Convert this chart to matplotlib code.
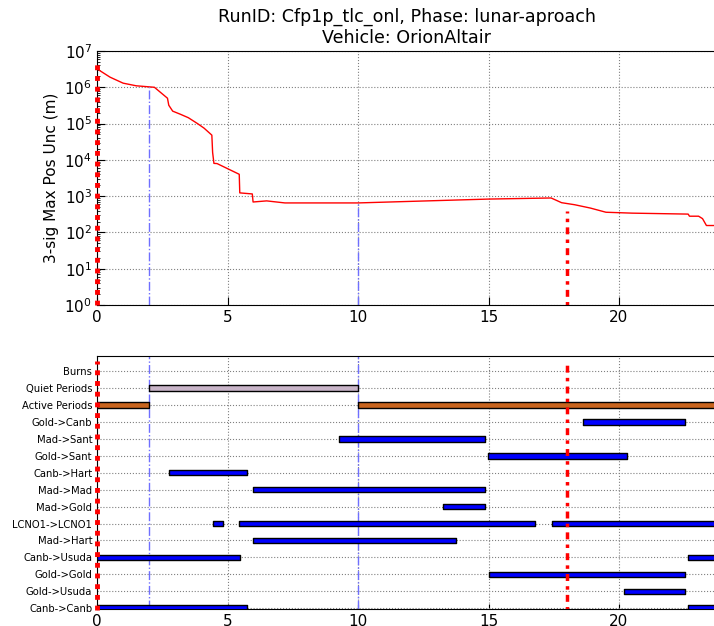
import numpy as np
import matplotlib
matplotlib.use("Agg")
import matplotlib.pyplot as plt

# uncertainty curve (days, meters)
t_days = [0.0, 0.03, 0.1, 0.5, 1.0, 1.5, 2.2, 2.7, 2.75, 2.9, 3.2, 3.5, 3.85, 4.1, 4.4, 4.43,
          4.48, 4.6, 5.45, 5.47, 5.95, 5.98, 6.5, 7.2, 10.0, 15.0, 17.4, 17.8, 18.3, 18.9,
          19.5, 20.5, 22.65, 22.7, 23.05, 23.2, 23.35, 23.8]
pos_unc = [5.0e6, 3.2e6, 2.9e6, 1.9e6, 1.3e6, 1.1e6, 1.0e6, 5.0e5, 3.2e5, 2.2e5, 1.8e5, 1.45e5,
           1.0e5, 7.5e4, 4.8e4, 1.6e4, 8.0e3, 7.9e3, 4.0e3, 1.23e3, 1.15e3, 6.9e2, 7.4e2, 6.5e2,
           6.5e2, 8.3e2, 8.9e2, 6.6e2, 5.8e2, 4.7e2, 3.6e2, 3.4e2, 3.2e2, 2.8e2, 2.8e2, 2.4e2,
           1.55e2, 1.55e2]

quiet_start = [2.0]
active_start = [0.0, 10.0]
burn_time = [18.0]

links = ["Canb->Canb", "Gold->Usuda", "Gold->Gold", "Canb->Usuda", "Mad->Hart", "LCNO1->LCNO1",
         "Mad->Gold", "Mad->Mad", "Canb->Hart", "Gold->Sant", "Mad->Sant", "Gold->Canb",
         "Active Periods", "Quiet Periods", "Burns"]

# (start, end) of each contact pass
passes = {
    "Canb->Canb": [(0.0, 5.75), (22.65, 24.5)],
    "Gold->Usuda": [(20.2, 22.53)],
    "Gold->Gold": [(15.0, 22.53)],
    "Canb->Usuda": [(0.0, 5.48), (22.64, 24.5)],
    "Mad->Hart": [(5.98, 13.75)],
    "LCNO1->LCNO1": [(4.45, 4.81), (5.45, 16.78), (17.43, 24.5)],
    "Mad->Gold": [(13.27, 14.87)],
    "Mad->Mad": [(5.98, 14.87)],
    "Canb->Hart": [(2.77, 5.76)],
    "Gold->Sant": [(14.98, 20.3)],
    "Mad->Sant": [(9.28, 14.87)],
    "Gold->Canb": [(18.63, 22.53)],
    "Active Periods": [(0.0, 2.0), (10.0, 24.5)],
    "Quiet Periods": [(2.0, 10.0)],
    "Burns": [],
}

bar_colors = {"Active Periods": "#c8641e", "Quiet Periods": "#c8b4c8"}
burn_style = (0, (1, 1.5, 2, 1.5))
zero_style = (0, (1, 1.2))

fig = plt.figure(figsize=(7.14, 6.26), dpi=100)
W, H = 714.0, 626.0
x_max = (716 - 97) / 26.1

# ---- top panel
ax1 = fig.add_axes([97 / W, 1 - 305 / H, (716 - 97) / W, 254 / H])
ax1.semilogy(t_days, pos_unc, color="red", lw=1)
log_unc = np.log10(pos_unc)
for q in quiet_start + active_start[1:]:
    top = 10 ** np.interp(q, t_days, log_unc)
    ax1.vlines(q, 1, top, colors="#6f6fff", linestyles="-.", lw=1)
for b in burn_time:
    top = 10 ** (np.interp(b, t_days, log_unc) - 0.2)
    ax1.vlines(b, 1, top, colors="red", linestyles=[burn_style], lw=2.5)
ax1.vlines(0, 1, 6e6, colors="red", linestyles=[zero_style], lw=3.5, clip_on=False, zorder=4)
ax1.set_xlim(0, x_max)
ax1.set_ylim(1, 1e7)
ax1.set_ylabel("3-sig Max Pos Unc (m)", fontsize=11)
ax1.grid(True, color="gray", linestyle=":", lw=0.8)
ax1.tick_params(direction="in", which="both", labelsize=11)
ax1.tick_params(which="major", length=6)
ax1.set_xticks([0, 5, 10, 15, 20])
ax1.set_title("RunID: Cfp1p_tlc_onl, Phase: lunar-aproach\nVehicle: OrionAltair", fontsize=12.6)

# ---- bottom panel
ax2 = fig.add_axes([97 / W, 1 - 609 / H, (716 - 97) / W, 253 / H])
for i, name in enumerate(links):
    segs = [(s, e - s) for s, e in passes[name]]
    if segs:
        ax2.broken_barh(segs, (i - 0.16, 0.32), facecolors=bar_colors.get(name, "#0000ff"),
                        edgecolors="black", lw=1, zorder=3)
for q in quiet_start + active_start[1:]:
    ax2.axvline(q, color="#6f6fff", linestyle="-.", lw=1, zorder=2)
for b in burn_time:
    ax2.vlines(b, -0.1, 14.55, colors="red", linestyles=[burn_style], lw=2.5, zorder=4)
ax2.vlines(0, -0.1, 14.6, colors="red", linestyles=[zero_style], lw=3.5, clip_on=False, zorder=4)
ax2.set_xlim(0, x_max)
ax2.set_ylim(-0.05, 14.9)
ax2.set_xticks([0, 5, 10, 15, 20])
ax2.grid(True, color="gray", linestyle=":", lw=0.8)
ax2.tick_params(direction="in", labelsize=11)
ax2.tick_params(axis="y", length=0)
ax2.set_yticks(range(len(links)))
ax2.set_yticklabels(links, fontsize=7.2)

fig.savefig("out.png", dpi=100)
